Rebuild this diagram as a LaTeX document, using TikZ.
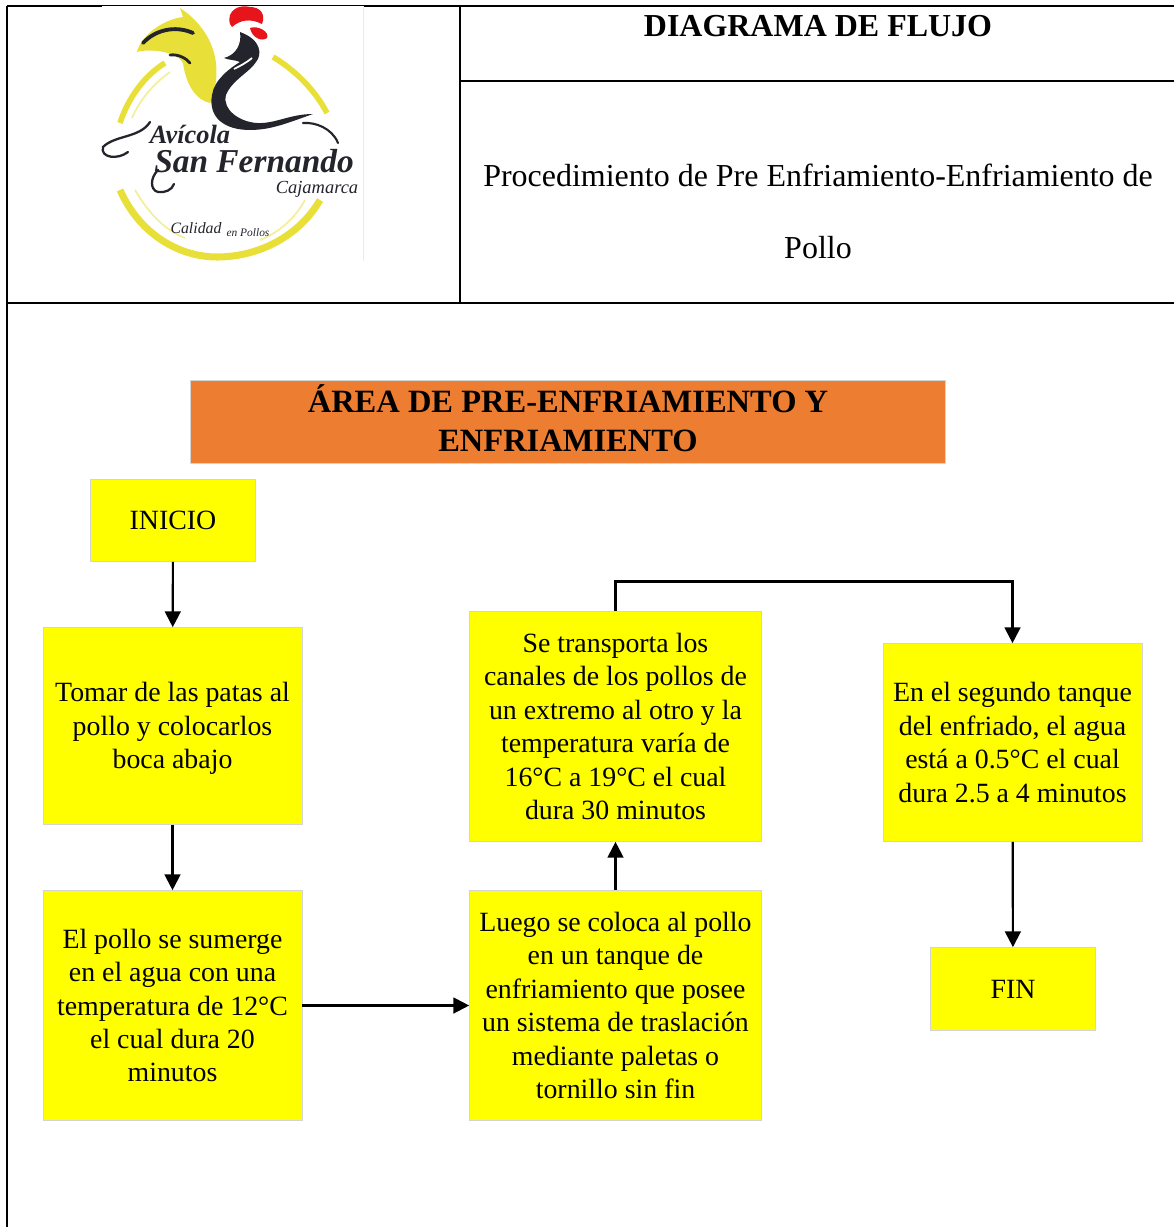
\documentclass[tikz,border=0pt]{standalone}
\usepackage{fontspec}
\setmainfont{Liberation Serif}
\usetikzlibrary{arrows.meta}
\definecolor{amarillo}{HTML}{FFFF00}
\definecolor{naranja}{HTML}{ED7D31}
\definecolor{borde}{HTML}{D4D4D4}
\definecolor{oro}{HTML}{E8E038}
\definecolor{tinta}{HTML}{24242C}
\definecolor{rojo}{HTML}{E8141C}
\begin{document}
\begin{tikzpicture}[
		x=0.02cm, y=-0.02cm,
		mybox/.style={draw=borde, fill=amarillo, line width=0.4pt, align=center, inner sep=0pt, font=\fontsize{15.85}{19}\selectfont},
		mytitle/.style={align=center, inner sep=0pt},
		tabla/.style={line width=1.1pt},
		flecha/.style={line width=1.25pt, -{Triangle[width=9pt,length=9pt]}},
		anillo/.style={oro, line width=3.2pt},
		trazo/.style={tinta, line cap=round}
	]
	\useasboundingbox (0,0) rectangle (1174,1227);

	% tabla
	\draw[tabla] (7,6) -- (1174,6);
	\draw[tabla] (7,6) -- (7,1227);
	\draw[tabla] (460,6) -- (460,303);
	\draw[tabla] (460,81) -- (1174,81);
	\draw[tabla] (7,303) -- (1174,303);

	% logo
	\fill[white] (102,5.5) rectangle (363,261);
	\draw[black!8] (363,6) -- (363,261);
	\fill[oro] (180,8) .. controls (203,23) and (222,50) .. (215,87) .. controls (213,98) and (211,103) .. (210,103) .. controls (196,100) and (186,85) .. (183,63) .. controls (178,52) and (150,48) .. (137,52) .. controls (140,38) and (160,20) .. (183,17) -- cycle;
	\draw[trazo, line width=2.2pt] (143,43) .. controls (155,30) and (175,25) .. (193,33);
	\draw[trazo, line width=1.6pt] (170,55) .. controls (178,54) and (186,58) .. (190,63);
	\fill[tinta] (240,32) .. controls (262,40) and (262,55) .. (256,62) .. controls (250,72) and (232,80) .. (226,95) .. controls (222,110) and (240,122) .. (257,123) .. controls (275,124) and (290,114) .. (313,114) .. controls (290,122) and (272,130) .. (250,130) .. controls (225,130) and (208,118) .. (212,95) .. controls (214,80) and (230,68) .. (240,62) .. controls (236,60) and (228,60) .. (224,58) .. controls (236,55) and (242,44) .. (240,32) -- cycle;
	\draw[white, line width=1pt] (252,58) .. controls (246,63) and (240,66) .. (234,69);
	\draw[trazo, line width=1.2pt] (303,123) .. controls (315,122) and (332,128) .. (338,143);
	\fill[rojo] (230,24) .. controls (226,10) and (240,4) .. (250,7) .. controls (260,7) and (266,14) .. (262,24) .. controls (250,18) and (240,20) .. (232,27) -- cycle;
	\fill[rojo] (250,28) .. controls (258,25) and (270,32) .. (267,38) .. controls (262,42) and (252,38) .. (250,28) -- cycle;
	\draw[anillo] (273,57) .. controls (295,70) and (315,90) .. (327,113);
	\draw[anillo] (165,63) .. controls (145,75) and (128,98) .. (120,123);
	\draw[anillo, line width=4pt] (120,190) .. controls (140,235) and (180,257) .. (217,257) .. controls (260,257) and (300,235) .. (320,200);
	\draw[oro!50, line width=1pt] (170,72) .. controls (152,85) and (140,100) .. (132,118);
	\draw[oro!50, line width=1pt] (135,190) .. controls (150,215) and (165,230) .. (185,238);
	\draw[oro!50, line width=1pt] (305,200) .. controls (295,218) and (280,232) .. (260,240);
	\node[mytitle, tinta] (avicola) at (190,134) {\fontsize{15}{15}\selectfont\bfseries\itshape Avícola};
	\node[mytitle, tinta] (sanf) at (254,161) {\fontsize{19}{19}\selectfont\bfseries\itshape San Fernando};
	\node[mytitle, tinta] (cajamarca) at (317,189) {\fontsize{10.5}{10.5}\selectfont\itshape Cajamarca};
	\node[mytitle, tinta] (calidad) at (196,228) {\fontsize{9}{9}\selectfont\itshape Calidad};
	\node[mytitle, tinta] (enpollos) at (248,233) {\fontsize{6.5}{6.5}\selectfont\itshape en Pollos};
	\draw[trazo, line width=1.3pt] (150,122) .. controls (140,138) and (115,135) .. (103,147) .. controls (100,158) and (118,160) .. (128,152);
	\draw[trazo, line width=1.3pt] (158,170) .. controls (150,178) and (150,190) .. (158,192) .. controls (165,193) and (172,190) .. (174,184);

	% cabecera
	\node[mytitle] (diagrama) at (818,26) {\fontsize{18.2}{19}\selectfont\bfseries DIAGRAMA DE FLUJO};
	\node[mytitle] (procedimiento) at (818,175) {\fontsize{18.2}{19}\selectfont Procedimiento de Pre Enfriamiento-Enfriamiento de};
	\node[mytitle] (pollo) at (818,248) {\fontsize{18.2}{19}\selectfont Pollo};

	% area
	\node[mybox, fill=naranja, font=\fontsize{18.5}{22.2}\selectfont\bfseries, minimum width=15.1cm, minimum height=1.66cm] (area) at (568,422) {ÁREA DE PRE-ENFRIAMIENTO Y\\ENFRIAMIENTO\rule[-4.5pt]{0pt}{1pt}};

	% cajas
	\node[mybox, minimum width=3.3cm, minimum height=1.64cm] (inicio) at (173,520.5) {INICIO};
	\node[mybox, minimum width=5.18cm, minimum height=3.94cm] (tomar) at (172.5,726) {\rule{0pt}{13.8pt}Tomar de las patas al\\pollo y colocarlos\\boca abajo};
	\node[mybox, minimum width=5.18cm, minimum height=4.6cm] (sumerge) at (172.5,1005.5) {El pollo se sumerge\\en el agua con una\\temperatura de 12°C\\el cual dura 20\\minutos};
	\node[mybox, minimum width=5.84cm, minimum height=4.6cm] (luego) at (615.5,1005.5) {Luego se coloca al pollo\\en un tanque de\\enfriamiento que posee\\un sistema de traslación\\mediante paletas o\\tornillo sin fin};
	\node[mybox, minimum width=5.84cm, minimum height=4.6cm] (transporta) at (615.5,726.5) {Se transporta los\\canales de los pollos de\\un extremo al otro y la\\temperatura varía de\\16°C a 19°C el cual\\dura 30 minutos};
	\node[mybox, minimum width=5.18cm, minimum height=3.96cm] (segundo) at (1012.5,742.5) {En el segundo tanque\\del enfriado, el agua\\está a 0.5°C el cual\\dura 2.5 a 4 minutos};
	\node[mybox, minimum width=3.3cm, minimum height=1.66cm] (fin) at (1013,989) {FIN};

	% flechas
	\coordinate (arriba) at (815,581.5);
	\draw[flecha] (inicio) -- (tomar);
	\draw[flecha] (tomar) -- (sumerge);
	\draw[flecha] (sumerge) -- (luego);
	\draw[flecha] (luego) -- (transporta);
	\draw[flecha] (transporta.north) |- (arriba) -| (segundo.north);
	\draw[flecha] (segundo) -- (fin);
\end{tikzpicture}
\end{document}
